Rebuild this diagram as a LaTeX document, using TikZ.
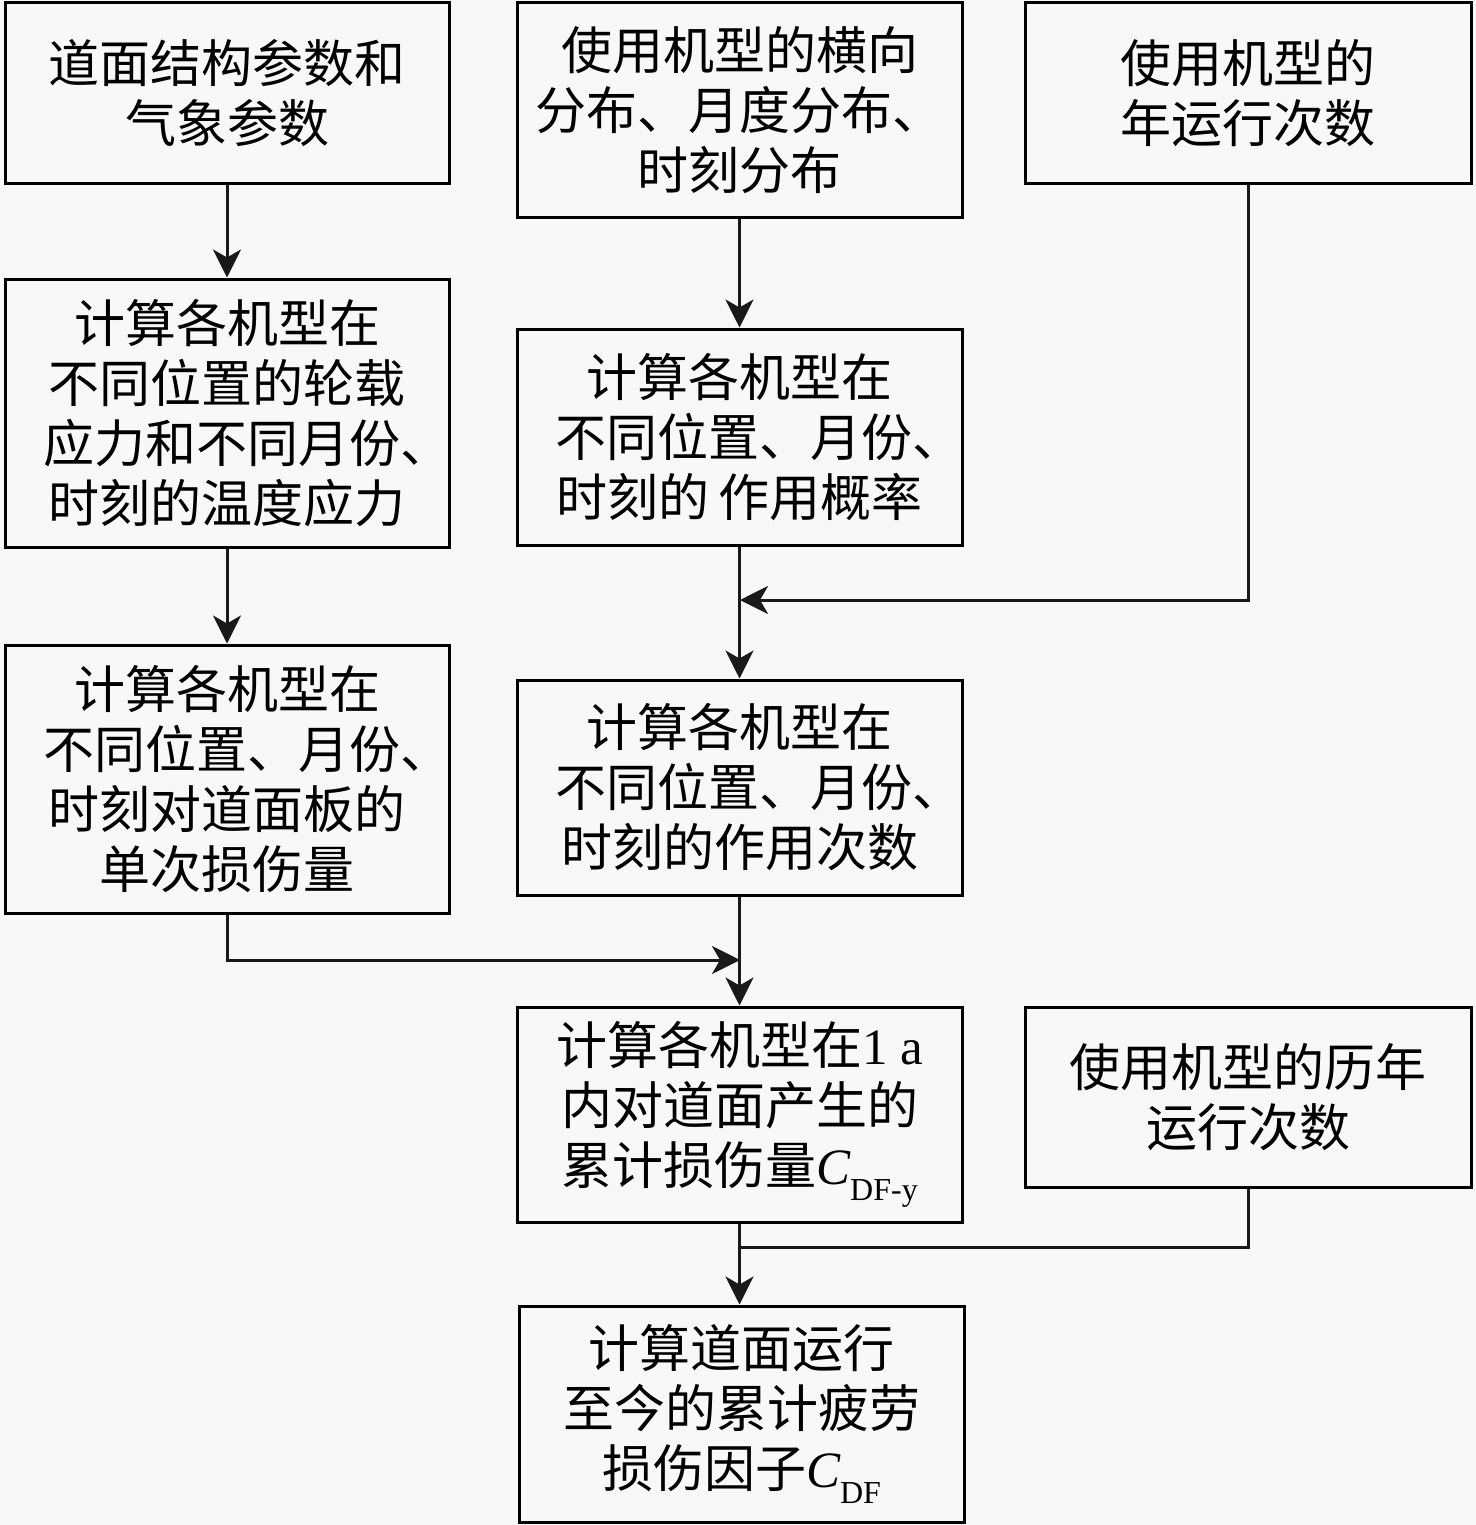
\documentclass[tikz,border=0pt]{standalone}
\usepackage{fontspec}
\newfontfamily\cjk{Noto Sans CJK SC}
\newfontfamily\tnr{Liberation Serif}
\usetikzlibrary{arrows.meta}
\definecolor{bgc}{RGB}{248,248,248}
\newcommand\latin[1]{{\tnr #1}}
\newcommand\subtxt[1]{\raisebox{-0.6ex}{\fontsize{16}{16}\selectfont\tnr #1}}
\newcommand\tdun{\makebox[0.2em][l]{、}}
\tikzset{
  box/.style={draw=black, line width=1.5pt, fill=bgc, align=center, inner sep=0pt,
    font=\cjk\fontsize{25.5}{30}\selectfont},
  conn/.style={line width=1.5pt, draw=black!90},
  arr/.style={conn, -{Stealth[length=14pt,width=14pt,inset=4pt]}}
}
\begin{document}
\begin{tikzpicture}[x=0.5pt,y=-0.5pt]
\fill[bgc] (0,0) rectangle (1476,1525);
\useasboundingbox (0,0) rectangle (1476,1525);
\node[box, minimum width=222pt, minimum height=90pt] (A) at (227,93) {道面结构参数和\\气象参数};
\node[box, minimum width=222.5pt, minimum height=107.5pt] (B) at (739.5,110) {使用机型的横向\\分布、月度分布、\\时刻分布};
\node[box, minimum width=223pt, minimum height=90pt] (C) at (1248,93) {使用机型的\\年运行次数};
\node[box, minimum width=222pt, minimum height=134pt] (D) at (227,413) {计算各机型在\\不同位置的轮载\\应力和不同月份\tdun\\时刻的温度应力};
\node[box, minimum width=222.5pt, minimum height=108pt] (E) at (739.5,437) {计算各机型在\\不同位置、月份\tdun\\时刻的\,作用概率};
\node[box, minimum width=222pt, minimum height=134pt] (F) at (227,779) {计算各机型在\\不同位置、月份\tdun\\时刻对道面板的\\单次损伤量};
\node[box, minimum width=222.5pt, minimum height=107.5pt] (G) at (739.5,787.5) {计算各机型在\\不同位置、月份\tdun\\时刻的作用次数};
\node[box, minimum width=222.5pt, minimum height=107.5pt] (H) at (739.5,1114.5) {计算各机型在\latin{1 a}\\内对道面产生的\\累计损伤量{\tnr\itshape C}\subtxt{DF-y}};
\node[box, minimum width=223pt, minimum height=90pt] (I) at (1248,1097) {使用机型的历年\\运行次数};
\node[box, minimum width=222.5pt, minimum height=108pt] (J) at (741.5,1414) {计算道面运行\\至今的累计疲劳\\损伤因子{\tnr\itshape C}\subtxt{DF}};
\coordinate (m1) at (740,600);
\coordinate (m2) at (740,960);
\coordinate (m3) at (740,1247);
\draw[arr] (A.south) -- (D.north);
\draw[arr] (D.south) -- (F.north);
\draw[arr] (B.south) -- (B.south |- E.north);
\draw[arr] (C.south) |- (m1);
\draw[arr] (E.south) -- (E.south |- G.north);
\draw[arr] (F.south) |- (m2);
\draw[arr] (G.south) -- (G.south |- H.north);
\draw[conn] (I.south) |- (m3);
\draw[arr] (H.south) -- (H.south |- J.north);
\end{tikzpicture}
\end{document}
